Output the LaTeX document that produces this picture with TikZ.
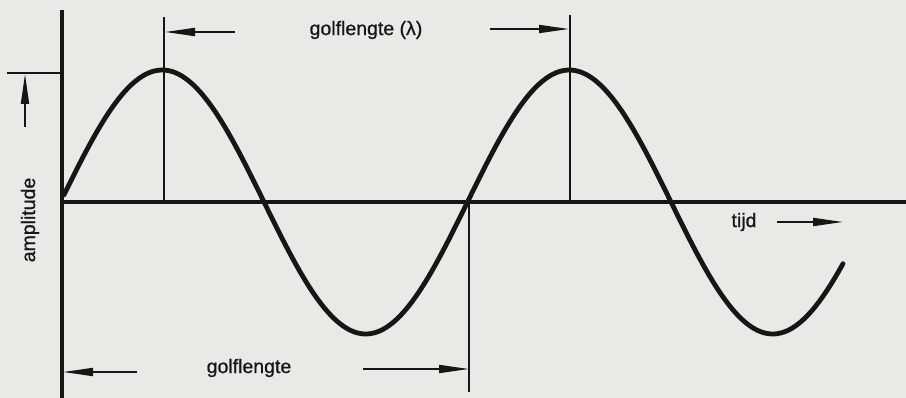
\documentclass[tikz,border=0pt]{standalone}
\usepackage{fontspec}
\setmainfont{Liberation Sans}
\newfontfamily\lblfont[FakeBold=0.8]{Liberation Sans}
\usetikzlibrary{arrows.meta}
\definecolor{paper}{RGB}{233,233,229}
\definecolor{ink}{RGB}{22,22,22}
\begin{document}
\begin{tikzpicture}[x=1pt,y=-1pt,
  axisline/.style={draw=ink,line width=3.2pt},
  dimline/.style={draw=ink,line width=1.8pt},
  wave/.style={draw=ink,line width=4.8pt,line cap=round},
  dimarrow/.style={draw=ink,line width=1.8pt,-{Triangle[length=30pt,width=8pt]}},
  lbl/.style={text=ink,font=\lblfont\fontsize{19.5}{22}\selectfont,inner sep=0pt}]
\fill[paper] (0,0) rectangle (906,398);
\useasboundingbox (0,0) rectangle (906,398);
% axes
\coordinate (ytop) at (62,10);
\coordinate (ybot) at (62,398);
\coordinate (xl) at (62,202);
\coordinate (xr) at (906,202);
\draw[axisline] (ytop) -- (ybot);
\draw[axisline] (xl) -- (xr);
% wave
\draw[wave] plot[domain=64:843,samples=240,smooth] (\x,{202-132*sin(((\x-60.5)/407)*360)});
% reference lines
\coordinate (p1t) at (164,17);
\coordinate (p1b) at (164,203);
\coordinate (p2t) at (570,15);
\coordinate (p2b) at (570,203);
\coordinate (z2t) at (469,200);
\coordinate (z2b) at (469,392);
\draw[dimline] (p1t) -- (p1b);
\draw[dimline] (p2t) -- (p2b);
\draw[dimline] (z2t) -- (z2b);
% amplitude marker
\coordinate (al) at (7,73);
\coordinate (ar) at (60,73);
\draw[dimline] (al) -- (ar);
\coordinate (aa0) at (25,127);
\coordinate (aa1) at (25,74);
\draw[dimarrow] (aa0) -- (aa1);
\node[lbl,rotate=90] (amp) at (30,220) {amplitude};
% labels
\node[lbl] (gl) at (366,30) {golflengte (λ)};
\node[lbl] (gl2) at (249,368) {golflengte};
\node[lbl] (tijd) at (744,222) {tijd};
% arrows
\coordinate (tl0) at (235,32);
\coordinate (tl1) at (165,32);
\draw[dimarrow] (tl0) -- (tl1);
\coordinate (tr0) at (490,29);
\coordinate (tr1) at (569,29);
\draw[dimarrow] (tr0) -- (tr1);
\coordinate (bl0) at (137,372);
\coordinate (bl1) at (63,372);
\draw[dimarrow] (bl0) -- (bl1);
\coordinate (br0) at (363,369);
\coordinate (br1) at (469,369);
\draw[dimarrow] (br0) -- (br1);
\coordinate (t0) at (777,222);
\coordinate (t1) at (843,222);
\draw[dimarrow] (t0) -- (t1);
\end{tikzpicture}
\end{document}
